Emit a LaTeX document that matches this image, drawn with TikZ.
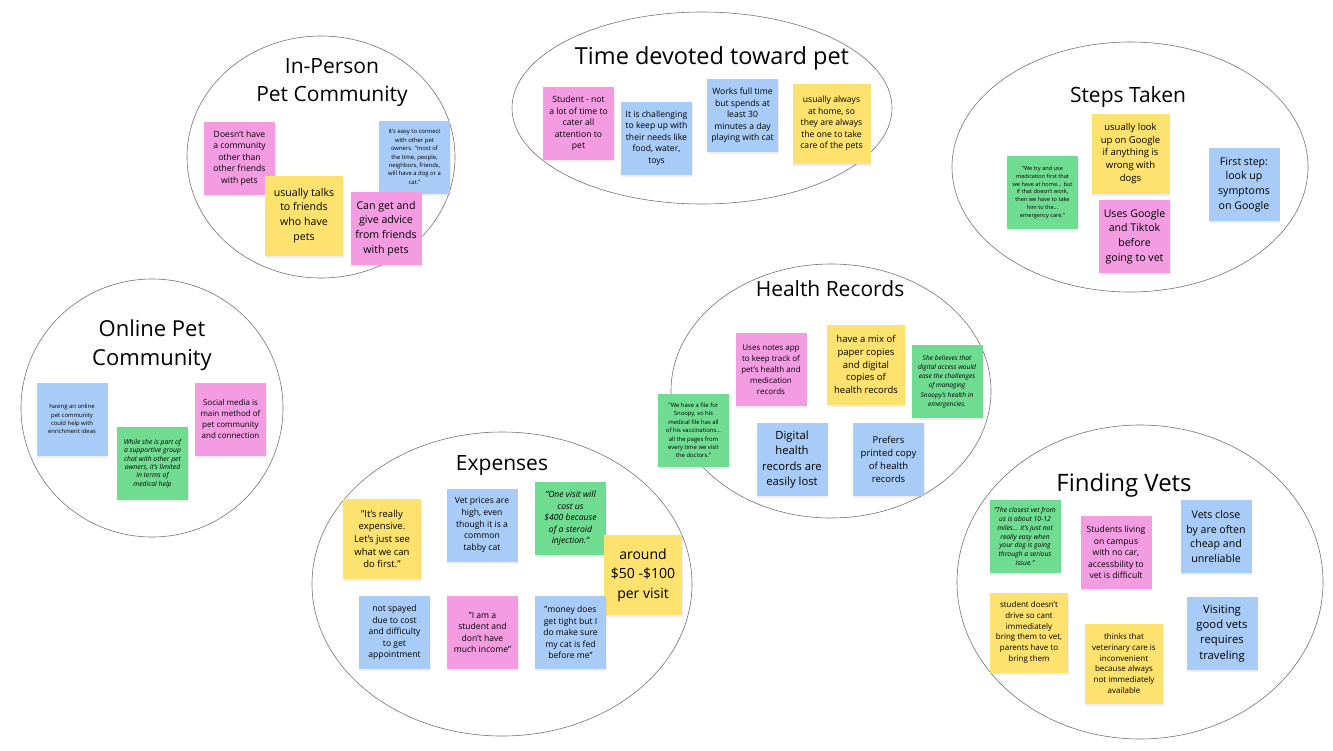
\documentclass[tikz,border=0pt]{standalone}
\usepackage{fontspec}
\setmainfont{Open Sans}
\usetikzlibrary{shadows}
\definecolor{npink}{RGB}{244,156,226}
\definecolor{nyell}{RGB}{253,226,112}
\definecolor{nblue}{RGB}{168,204,247}
\definecolor{ngreen}{RGB}{112,220,145}
\begin{document}
\begin{tikzpicture}[x=1pt, y=-1pt,
      nt/.style={align=center, inner sep=0pt, minimum width=71pt, minimum height=73pt,
        drop shadow={opacity=0.13, shadow xshift=0.6pt, shadow yshift=-2pt}},
      big/.style={nt, minimum width=78pt, minimum height=80pt},
      pk/.style={nt, fill=npink}, yl/.style={big, fill=nyell},
      bl/.style={nt, fill=nblue}, gn/.style={nt, fill=ngreen},
      xs/.style={font=\fontsize{5.6}{7.8}\selectfont},
      xsi/.style={font=\fontsize{6.8}{8.8}\selectfont\itshape},
      sm/.style={font=\fontsize{5.9}{8.4}\selectfont},
      smi/.style={font=\fontsize{6.8}{8.4}\selectfont\itshape},
      md/.style={font=\fontsize{8.6}{11.6}\selectfont},
      mdi/.style={font=\fontsize{8.6}{11.6}\selectfont\itshape},
      lg/.style={font=\fontsize{10.6}{14.6}\selectfont},
      xl/.style={font=\fontsize{14}{19.5}\selectfont},
      ttl/.style={align=center, font=\fontsize{21}{28}\selectfont},
      grp/.style={draw=black!55, line width=0.6pt}]
    \fill[white] (0,0) rectangle (1333,750);
    \useasboundingbox (0,0) rectangle (1333,750);
    % groups
    \draw[grp] (321,157) ellipse [x radius=134, y radius=121];
    \draw[grp] (702,108) ellipse [x radius=190, y radius=96];
    \draw[grp] (1130,167) ellipse [x radius=178, y radius=125];
    \draw[grp] (152,408) ellipse [x radius=131, y radius=129];
    \draw[grp] (831,391) ellipse [x radius=160, y radius=127];
    \draw[grp] (502,584) ellipse [x radius=190, y radius=152];
    \draw[grp] (1140,582) ellipse [x radius=183, y radius=157];
    % in-person pet community
    \node[ttl] (tInPerson) at (332,83) {In-Person\\Pet Community};
    \node[pk, md] (ip1) at (239.5,158) {Doesn't have\\a community\\other than\\other friends\\with pets};
    \node[yl, lg] (ip2) at (304,215.5) {usually talks\\to friends\\who have\\pets};
    \node[bl, sm] (ip3) at (414.5,157) {It's easy to connect\\with other pet\\owners. "most of\\the time, people,\\neighbors, friends,\\will have a dog or a\\cat."};
    \node[pk, lg] (ip4) at (386,228.5) {Can get and\\give advice\\from friends\\with pets};
    % time devoted toward pet
    \node[ttl, font=\fontsize{23.5}{28}\selectfont] (tTime) at (712,58) {Time devoted toward pet};
    \node[pk, md] (tm1) at (578.5,123.5) {Student - not\\a lot of time to\\cater all\\attention to\\pet};
    \node[bl, md] (tm2) at (656.5,138) {It is challenging\\to keep up with\\their needs like\\food, water,\\toys};
    \node[bl, md] (tm3) at (742.5,115.5) {Works full time\\but spends at\\least 30\\minutes a day\\playing with cat};
    \node[yl, md] (tm4) at (831.5,123.5) {usually always\\at home, so\\they are always\\the one to take\\care of the pets};
    % steps taken
    \node[ttl] (tSteps) at (1128,97) {Steps Taken};
    \node[gn, xs] (st1) at (1042.5,192.5) {"We try and use\\medication first that\\we have at home... but\\if that doesn't work,\\then we have to take\\him to the...\\emergency care."};
    \node[yl, font=\fontsize{9.5}{12.8}\selectfont] (st2) at (1130.5,153.5) {usually look\\up on Google\\if anything is\\wrong with\\dogs};
    \node[pk, lg] (st3) at (1134.5,236.5) {Uses Google\\and Tiktok\\before\\going to vet};
    \node[bl, lg] (st4) at (1244,184.5) {First step:\\look up\\symptoms\\on Google};
    % online pet community
    \node[ttl, font=\fontsize{22}{29}\selectfont] (tOnline) at (152,345) {Online Pet\\Community};
    \node[bl, sm] (on1) at (72,419) {having an online\\pet community\\could help with\\enrichment ideas};
    \node[gn, smi] (on2) at (152.5,463.5) {While she is part of\\a supportive group\\chat with other pet\\owners, it's limited\\in terms of\\medical help};
    \node[pk, font=\fontsize{8}{11}\selectfont] (on3) at (230.5,419) {Social media is\\main method of\\pet community\\and connection};
    % health records
    \node[ttl] (tHealth) at (830,289) {Health Records};
    \node[pk, font=\fontsize{8}{11}\selectfont] (hr1) at (771,369.5) {Uses notes app\\to keep track of\\pet's health and\\medication\\records};
    \node[yl, font=\fontsize{9.5}{12.9}\selectfont] (hr2) at (866,364.5) {have a mix of\\paper copies\\and digital\\copies of\\health records};
    \node[gn, xsi, font=\fontsize{6.6}{9.2}\selectfont\itshape] (hr3) at (947,381.5) {She believes that\\digital access would\\ease the challenges\\of managing\\Snoopy's health in\\emergencies.};
    \node[gn, sm] (hr4) at (693.5,430.5) {"We have a file for\\Snoopy, so his\\medical file has all\\of his vaccinations...\\all the pages from\\every time we visit\\the doctors."};
    \node[bl, font=\fontsize{11.3}{15.5}\selectfont] (hr5) at (792,459.5) {Digital\\health\\records are\\easily lost};
    \node[bl, font=\fontsize{9.5}{12.9}\selectfont] (hr6) at (888.5,459.5) {Prefers\\printed copy\\of health\\records};
    % expenses
    \node[ttl] (tExpenses) at (502,466) {Expenses};
    \node[yl, font=\fontsize{9.5}{12.7}\selectfont] (ex1) at (382,539) {"It's really\\expensive.\\Let's just see\\what we can\\do first."};
    \node[bl, md] (ex2) at (482,525) {Vet prices are\\high, even\\though it is a\\common\\tabby cat};
    \node[gn, mdi] (ex3) at (570.5,518.5) {"One visit will\\cost us\\\$400 because\\of a steroid\\injection."};
    \node[yl, xl] (ex4) at (643,575) {around\\\$50 -\$100\\per visit};
    \node[bl, md] (ex5) at (394.5,632.5) {not spayed\\due to cost\\and difficulty\\to get\\appointment};
    \node[pk, md] (ex6) at (482.5,632.5) {"I am a\\student and\\don't have\\much income"};
    \node[bl, md] (ex7) at (570.5,632.5) {"money does\\get tight but I\\do make sure\\my cat is fed\\before me"};
    % finding vets
    \node[ttl, font=\fontsize{24}{28}\selectfont] (tVets) at (1124,485) {Finding Vets};
    \node[gn, xsi] (fv1) at (1025,536.5) {"The closest vet from\\us is about 10-12\\miles... it's just not\\really easy when\\your dog is going\\through a serious\\issue."};
    \node[pk, md] (fv2) at (1116,552.5) {Students living\\on campus\\with no car,\\accessbility to\\vet is difficult};
    \node[bl, lg] (fv3) at (1216,536.5) {Vets close\\by are often\\cheap and\\unreliable};
    \node[yl, font=\fontsize{8}{10.8}\selectfont] (fv4) at (1029,632.5) {student doesn't\\drive so cant\\immediately\\bring them to vet,\\parents have to\\bring them};
    \node[yl, font=\fontsize{8}{10.8}\selectfont] (fv5) at (1124,663.5) {thinks that\\veterinary care is\\inconvenient\\because always\\not immediately\\available};
    \node[bl, font=\fontsize{11.3}{15.3}\selectfont] (fv6) at (1222,633.5) {Visiting\\good vets\\requires\\traveling};
\end{tikzpicture}
\end{document}
